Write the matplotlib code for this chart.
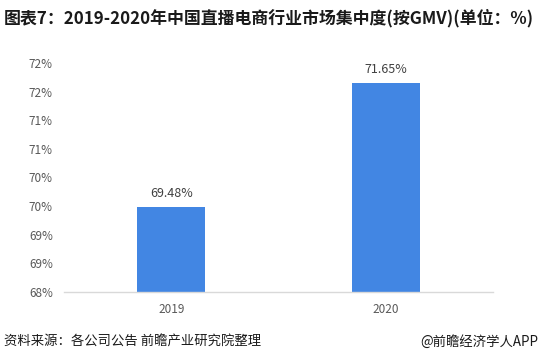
import math
import matplotlib
matplotlib.use("Agg")
import matplotlib.pyplot as plt
import matplotlib.ticker as ticker

years = ["2019", "2020"]
share = [69.48, 71.65]
bar_labels = ["69.48%", "71.65%"]

title = "图表7：2019-2020年中国直播电商行业市场集中度(按GMV)(单位：%)"
source = "资料来源：各公司公告 前瞻产业研究院整理"
brand = "@前瞻经济学人APP"

plt.rcParams['font.family'] = ['Noto Sans CJK SC', 'DejaVu Sans']

fig = plt.figure(figsize=(5.43, 3.63), dpi=100)
ax = fig.add_axes([64/543, (363-292)/363, (493-64)/543, (292-63)/363])

x = range(len(years))
ax.bar(x, share, width=0.317, color="#4286e3", zorder=2)
for xi, v, lab in zip(x, share, bar_labels):
    ax.annotate(lab, (xi, v), xytext=(0, 5), textcoords="offset points",
                ha="center", va="bottom", fontsize=9, color="#404040")

ax.set_xlim(-0.5, 1.5)
ax.set_ylim(68, 72)
ax.set_xticks(list(x))
ax.set_xticklabels(years)
ax.yaxis.set_major_locator(ticker.MultipleLocator(0.5))
ax.yaxis.set_major_formatter(ticker.FuncFormatter(lambda v, p: f"{math.floor(v + 0.5):d}%"))
ax.tick_params(axis="both", length=0, labelsize=8.5, labelcolor="#595959")
ax.tick_params(axis="x", pad=8)
ax.tick_params(axis="y", pad=8)

for s in ["top", "right", "left"]:
    ax.spines[s].set_visible(False)
ax.spines["bottom"].set_color("#d9d9d9")
ax.spines["bottom"].set_linewidth(1)

fig.text(4/543, 1 - 18/363, title, fontsize=12.2, fontweight="bold",
         ha="left", va="center", color="#1a1a1a")
fig.text(4/543, 1 - 342/363, source, fontsize=9.6, ha="left", va="center", color="#1a1a1a")
fig.text(538/543, 1 - 342/363, brand, fontsize=9.6, ha="right", va="center", color="#1a1a1a")

fig.savefig("out.png", dpi=100)
